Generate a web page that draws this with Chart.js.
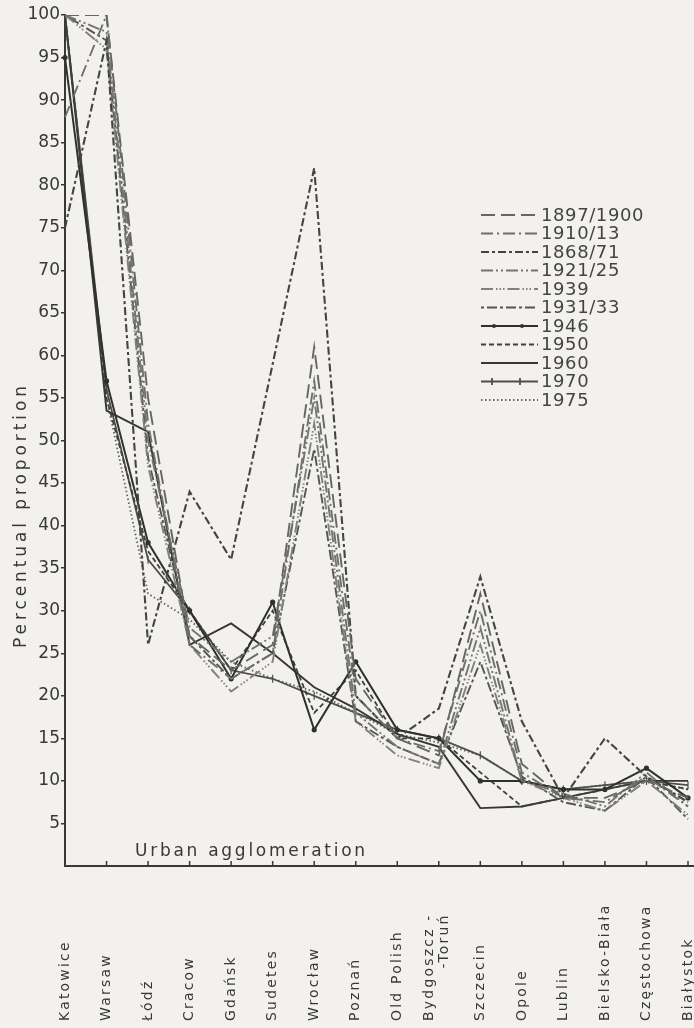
<!DOCTYPE html>
<html><head><meta charset="utf-8">
<script src="https://cdn.jsdelivr.net/npm/chart.js@4.4.1/dist/chart.umd.min.js"></script>
<style>
html,body{margin:0;padding:0;background:#f2f1ed;}
canvas{display:block;}
</style></head><body>
<canvas id="c" width="694" height="1028"></canvas>
<script>
// ---- data ----
const categories = ["Katowice","Warsaw","Łódź","Cracow","Gdańsk","Sudetes","Wrocław","Poznań","Old Polish",["Bydgoszcz -","-Toruń"],"Szczecin","Opole","Lublin","Bielsko-Biała","Częstochowa","Białystok"];
const seriesNames = ["1897/1900","1910/13","1868/71","1921/25","1939","1931/33","1946","1950","1960","1970","1975"];
const s1897 = [100, 100, 55, 27, 23, 26, 61, 22, 15, 13, 32, 12, 8, 8, 10, 8];
const s1910 = [88, 100, 52, 26, 22, 25, 57, 20, 15, 13.5, 30, 11, 8, 7.5, 10.5, 7];
const s1868 = [75, 97, 26, 44, 36, 59, 82, 20, 15, 18.5, 34, 17, 8, 15, 10.5, 7.5];
const s1921 = [100, 98, 50, 28, 24, 27, 55, 18, 14, 12, 28, 10, 8.5, 7, 11, 7];
const s1939 = [100, 96, 47, 26, 20.5, 24, 52, 17, 13, 11.5, 26, 10, 8, 6.5, 10, 6];
const s1931 = [100, 97, 48, 27, 22, 25, 49, 17, 14, 12, 24, 10.5, 7.5, 6.5, 10.5, 5.5];
const s1946 = [95, 57, 38, 30, 22, 31, 16, 24, 16, 15, 10, 10, 9, 9, 11.5, 8];
const s1950 = [100, 55, 37, 30, 23, 30, 18, 23, 15, 15, 11, 7, 8, 9, 10, 9];
const s1960 = [100, 53.5, 51, 26, 28.5, 25, 21, 18.5, 15.5, 14, 6.8, 7, 8, 9, 10, 10];
const s1970 = [100, 56, 36, 30, 23, 22, 20, 18, 16, 15, 13, 10, 9, 9.5, 10, 9.5];
const s1975 = [100, 55, 32, 29, 24, 22, 20.5, 18, 15.5, 14.5, 13, 10, 9, 9.5, 10, 9];
const seriesValues = [s1897, s1910, s1868, s1921, s1939, s1931, s1946, s1950, s1960, s1970, s1975];
const yMin = 0, yMax = 100, yStep = 5;

// ---- styles ----
const styles = [
  {color:'#666666', width:1.9, dash:[14,6]},
  {color:'#6e6e6e', width:1.9, dash:[12,4,2,4]},
  {color:'#444444', width:2.1, dash:[8,3,3,3]},
  {color:'#747474', width:1.9, dash:[12,3,2,3,2,3]},
  {color:'#808080', width:1.9, dash:[12,3,1.5,2,1.5,2,1.5,3]},
  {color:'#555555', width:1.9, dash:[3,3,10,3]},
  {color:'#303030', width:2, dash:[], point:'circle', pr:2},
  {color:'#404040', width:1.8, dash:[5,3]},
  {color:'#363636', width:1.9, dash:[]},
  {color:'#4e4e4e', width:1.8, dash:[], point:'line', pr:4},
  {color:'#626262', width:1.8, dash:[1.5,2.5]}
];

Chart.defaults.font.family = '"DejaVu Sans", sans-serif';
const BG = '#f2f1ed';
const INK = '#383838';

const datasets = seriesNames.map((n,i)=>({
  label:n, data:seriesValues[i],
  borderColor:styles[i].color, backgroundColor:styles[i].color,
  borderWidth:styles[i].width, borderDash:styles[i].dash,
  pointRadius:styles[i].pr||0, pointStyle:styles[i].point||'circle',
  pointRotation:styles[i].point==='line'?90:0,
  pointBorderWidth:1.2, pointBorderColor:styles[i].color, pointBackgroundColor:styles[i].color,
  tension:0, fill:false
}));

const bgPlugin = {id:'bg', beforeDraw(chart){const c=chart.ctx; c.save(); c.fillStyle=BG; c.fillRect(0,0,chart.width,chart.height); c.restore();}};

function fitText(ctx, text, width){
  ctx.letterSpacing='0px';
  const w=ctx.measureText(text).width;
  const sp=Math.max(0,(width-w)/Math.max(1,text.length-1));
  ctx.letterSpacing=sp.toFixed(2)+'px';
}

const decoPlugin = {id:'deco', afterDraw(chart){
  const ctx=chart.ctx, xs=chart.scales.x, area=chart.chartArea;
  ctx.save();
  ctx.strokeStyle=INK; ctx.lineWidth=1.5;
  categories.forEach((c,i)=>{const px=xs.getPixelForValue(i); ctx.beginPath(); ctx.moveTo(px,area.bottom); ctx.lineTo(px,area.bottom-5); ctx.stroke();});
  ctx.lineWidth=2; ctx.beginPath(); ctx.moveTo(area.right,area.bottom); ctx.lineTo(chart.width,area.bottom); ctx.stroke();
  // category labels
  ctx.fillStyle=INK; ctx.font='14px "DejaVu Sans"'; ctx.letterSpacing='2.2px';
  ctx.textBaseline='middle'; ctx.textAlign='left';
  categories.forEach((lab,i)=>{
    const px=xs.getPixelForValue(i);
    const lines=Array.isArray(lab)?lab:[lab];
    ctx.save(); ctx.translate(px,1021); ctx.rotate(-Math.PI/2);
    if(lines.length===1){ctx.fillText(lines[0],0,0);}
    else{const w0=ctx.measureText(lines[0]).width, w1=ctx.measureText(lines[1]).width;
      ctx.fillText(lines[0],0,-9); ctx.fillText(lines[1],w0-w1,6);}
    ctx.restore();
  });
  // y title
  ctx.save(); ctx.font='17px "DejaVu Sans"'; ctx.fillStyle=INK;
  ctx.translate(22,515); ctx.rotate(-Math.PI/2); ctx.textAlign='center'; ctx.textBaseline='middle';
  fitText(ctx,'Percentual proportion',262); ctx.fillText('Percentual proportion',0,0); ctx.restore();
  // x title inside plot
  ctx.save(); ctx.font='17px "DejaVu Sans"'; ctx.fillStyle=INK; ctx.textAlign='left'; ctx.textBaseline='middle';
  fitText(ctx,'Urban agglomeration',230); ctx.fillText('Urban agglomeration',135,852); ctx.restore();
  // legend
  ctx.save(); ctx.font='18px "DejaVu Sans"'; ctx.textBaseline='middle'; ctx.textAlign='left'; ctx.letterSpacing='0.6px';
  chart.data.datasets.forEach((ds,i)=>{
    const y=215+i*18.5, x0=481, x1=538;
    ctx.save(); ctx.strokeStyle=ds.borderColor; ctx.lineWidth=ds.borderWidth; ctx.setLineDash(ds.borderDash||[]);
    ctx.beginPath(); ctx.moveTo(x0,y); ctx.lineTo(x1,y); ctx.stroke(); ctx.setLineDash([]);
    if(styles[i].point==='circle'){ctx.fillStyle=ds.borderColor;[494,522].forEach(x=>{ctx.beginPath();ctx.arc(x,y,2,0,Math.PI*2);ctx.fill();});}
    if(styles[i].point==='line'){[492,520].forEach(x=>{ctx.beginPath();ctx.moveTo(x,y-3.5);ctx.lineTo(x,y+3.5);ctx.stroke();});}
    ctx.restore();
    ctx.fillStyle='#444'; ctx.fillText(ds.label,541,y+1);
  });
  ctx.restore();
  ctx.restore();
}};

new Chart(document.getElementById('c'), {
  type:'line',
  data:{labels:categories, datasets:datasets},
  options:{
    responsive:false, animation:false, devicePixelRatio:1,
    layout:{padding:{top:15,right:6,left:0,bottom:0}},
    plugins:{legend:{display:false}, tooltip:{enabled:false}},
    scales:{
      x:{type:'category', offset:false,
         grid:{display:false, drawTicks:false},
         border:{display:true,color:INK,width:2},
         ticks:{display:false},
         afterFit(s){s.height=162;}},
      y:{min:yMin,max:yMax,
         ticks:{stepSize:yStep, callback:v=>v===0?null:v, color:INK, font:{size:17}, padding:1, autoSkip:false},
         grid:{drawOnChartArea:false, drawTicks:true, tickLength:4, color:INK, lineWidth:1.5},
         border:{color:INK,width:2},
         afterFit(s){s.width=65;}}
    }
  },
  plugins:[bgPlugin, decoPlugin]
});
</script>
</body></html>
